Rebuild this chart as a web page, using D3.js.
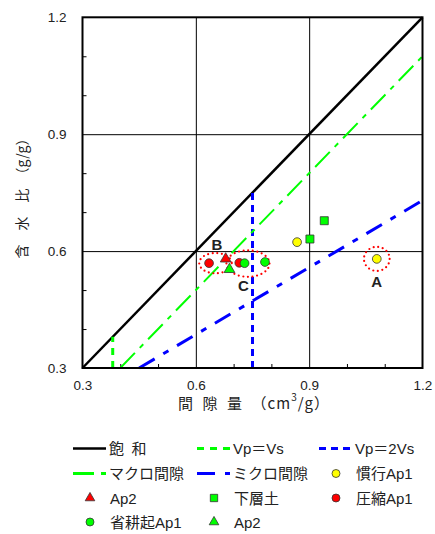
<!DOCTYPE html>
<html>
<head>
<meta charset="utf-8">
<script src="https://cdn.jsdelivr.net/npm/d3@7"></script>
<style>
  body { margin: 0; background: #fff; }
  text { font-family: "Liberation Sans", Arial, "Noto Sans CJK JP", sans-serif; fill: #222; }
  .jp { font-family: "Liberation Sans", "Noto Sans CJK JP", sans-serif; }
  .cjk { font-family: "Noto Sans CJK JP", sans-serif; text-spacing-trim: space-all; }
</style>
</head>
<body>
<div id="chart"></div>
<script>
// axis ticks
const majorTicks = [0.3, 0.6, 0.9, 1.2];
const minorTicks = [0.4, 0.5, 0.7, 0.8, 1.0, 1.1];
const gridTicks = [0.6, 0.9];

// reference lines [x, y] pairs
const saturation = [[0.3, 0.3], [1.2, 1.2]];
const vpEqVs = [[0.38, 0.3], [0.38, 0.38]];
const vpEq2Vs = [[0.75, 0.3], [0.75, 0.75]];
const macroPore = [[0.4, 0.3], [1.2, 1.1]];
const microPore = [[0.45, 0.3], [1.2, 0.73]];

// measured points [void volume, water content]
const kankouAp1 = [[0.868, 0.623], [1.079, 0.580]];
const redAp2 = [[0.679, 0.580]];
const kasoudo = [[0.902, 0.631], [0.940, 0.678]];
const asshukuAp1 = [[0.635, 0.569], [0.715, 0.570]];
const shoukoukiAp1 = [[0.729, 0.569], [0.783, 0.572]];
const greenAp2 = [[0.689, 0.553]];

// annotations: dotted ellipses [cx, cy, rx, ry] and letters
const ellipses = [[1.079, 0.580, 0.034, 0.031], [0.652, 0.569, 0.043, 0.026], [0.738, 0.568, 0.057, 0.034]];
const letters = [["A", 1.079, 0.523], ["B", 0.656, 0.616], ["C", 0.726, 0.511]];

const width = 435, height = 534;
const mLeft = 82.5, mRight = 422.5, mTop = 17.3, mBottom = 368;

const svg = d3.select("#chart").append("svg")
  .attr("width", width).attr("height", height);

svg.append("rect").attr("width", width).attr("height", height).attr("fill", "#fff");

const x = d3.scaleLinear().domain([0.3, 1.2]).range([mLeft, mRight]);
const y = d3.scaleLinear().domain([0.3, 1.2]).range([mBottom, mTop]);

// grid lines
svg.append("g").attr("transform", `translate(0,${mBottom})`)
  .call(d3.axisBottom(x).tickValues(gridTicks).tickSize(-(mBottom - mTop)).tickFormat(""))
  .call(g => g.select(".domain").remove())
  .selectAll("line").attr("stroke", "#000").attr("stroke-width", 1);
svg.append("g").attr("transform", `translate(${mLeft},0)`)
  .call(d3.axisLeft(y).tickValues(gridTicks).tickSize(-(mRight - mLeft)).tickFormat(""))
  .call(g => g.select(".domain").remove())
  .selectAll("line").attr("stroke", "#000").attr("stroke-width", 1);

// minor inward ticks
svg.append("g").attr("transform", `translate(0,${mBottom})`)
  .call(d3.axisBottom(x).tickValues(minorTicks).tickSize(-4).tickFormat(""))
  .call(g => g.select(".domain").remove())
  .selectAll("line").attr("stroke", "#000");
svg.append("g").attr("transform", `translate(${mLeft},0)`)
  .call(d3.axisLeft(y).tickValues(minorTicks).tickSize(-4).tickFormat(""))
  .call(g => g.select(".domain").remove())
  .selectAll("line").attr("stroke", "#000");

// tick labels
svg.append("g").attr("transform", `translate(0,${mBottom})`)
  .call(d3.axisBottom(x).tickValues(majorTicks).tickSize(0).tickPadding(12).tickFormat(d3.format(".1f")))
  .call(g => g.select(".domain").remove())
  .selectAll("text").attr("font-size", 13.5).attr("fill", "#222")
  .attr("font-family", "Liberation Sans, Arial, sans-serif");
svg.append("g").attr("transform", `translate(${mLeft},0)`)
  .call(d3.axisLeft(y).tickValues(majorTicks).tickSize(0).tickPadding(16).tickFormat(d3.format(".1f")))
  .call(g => g.select(".domain").remove())
  .selectAll("text").attr("font-size", 13.5).attr("fill", "#222")
  .attr("font-family", "Liberation Sans, Arial, sans-serif");

const line = d3.line().x(d => x(d[0])).y(d => y(d[1]));
const plot = svg.append("g");

const lineStyles = [
  { data: saturation, color: "#000", w: 2.5, dash: null, name: "飽\u2002和" },
  { data: vpEqVs, color: "#00ff00", w: 3, dash: "7,6", name: "Vp＝Vs" },
  { data: vpEq2Vs, color: "#0000ff", w: 3, dash: "7,5", name: "Vp＝2Vs" },
  { data: macroPore, color: "#00ff00", w: 2, dash: "21,7,5,7", name: "マクロ間隙" },
  { data: microPore, color: "#0000ff", w: 3, dash: "18,10,6,10", name: "ミクロ間隙" }
];

lineStyles.forEach(s => {
  plot.append("path").datum(s.data).attr("d", line)
    .attr("fill", "none").attr("stroke", s.color).attr("stroke-width", s.w)
    .attr("stroke-dasharray", s.dash);
});

// ellipses
plot.selectAll("ellipse.ann").data(ellipses).join("ellipse")
  .attr("cx", d => x(d[0])).attr("cy", d => y(d[1]))
  .attr("rx", d => x(d[0] + d[2]) - x(d[0])).attr("ry", d => y(d[1]) - y(d[1] + d[3]))
  .attr("fill", "none").attr("stroke", "#ff0000").attr("stroke-width", 2.2)
  .attr("stroke-linecap", "round").attr("stroke-dasharray", "0,4.6");

const markerStyles = [
  { data: kankouAp1, shape: d3.symbolCircle, size: 60, color: "#ffff00", name: "慣行Ap1" },
  { data: redAp2, shape: d3.symbolTriangle, size: 50, color: "#ff0000", name: "Ap2" },
  { data: kasoudo, shape: d3.symbolSquare, size: 64, color: "#00ff00", name: "下層土" },
  { data: asshukuAp1, shape: d3.symbolCircle, size: 60, color: "#ff0000", name: "圧縮Ap1" },
  { data: shoukoukiAp1, shape: d3.symbolCircle, size: 60, color: "#00ff00", name: "省耕起Ap1" },
  { data: greenAp2, shape: d3.symbolTriangle, size: 50, color: "#00ff00", name: "Ap2" }
];

markerStyles.forEach(s => {
  plot.selectAll(null).data(s.data).join("path")
    .attr("transform", d => `translate(${x(d[0])},${y(d[1])})`)
    .attr("d", d3.symbol(s.shape, s.size))
    .attr("fill", s.color).attr("stroke", "#333").attr("stroke-width", 0.8);
});

plot.selectAll("text.letter").data(letters).join("text")
  .attr("x", d => x(d[1])).attr("y", d => y(d[2]))
  .attr("text-anchor", "middle").attr("dominant-baseline", "central")
  .attr("font-size", 15).attr("font-weight", "bold").attr("fill", "#000")
  .text(d => d[0]);

// frame
svg.append("rect").attr("x", mLeft).attr("y", mTop)
  .attr("width", mRight - mLeft).attr("height", mBottom - mTop)
  .attr("fill", "none").attr("stroke", "#000").attr("stroke-width", 2);

// axis titles
const xt = svg.append("text").attr("class", "cjk").attr("x", 254).attr("y", 402)
  .attr("text-anchor", "middle").attr("dominant-baseline", "central").attr("font-size", 15)
  .attr("letter-spacing", 1);
xt.append("tspan").text("間\u2002隙\u2002量\u2002（cm");
xt.append("tspan").attr("font-size", 10).attr("dy", -6).text("3");
xt.append("tspan").attr("dy", 6).text("/g）");

svg.append("text").attr("class", "cjk")
  .attr("transform", "translate(21,195) rotate(-90)")
  .attr("text-anchor", "middle").attr("dominant-baseline", "central").attr("font-size", 14)
  .text("含\u3000水\u3000比\u2002（g/g）");

// legend
const colX = [73, 197, 319];
const rowY = [448.5, 473.5, 498, 522];
const legendItems = lineStyles.map(s => ({ type: "line", ...s })).concat(markerStyles.map(s => ({ type: "mark", ...s })));
const legend = svg.append("g");
legendItems.forEach((it, i) => {
  const cx = colX[i % 3], cy = rowY[Math.floor(i / 3)];
  const g = legend.append("g").attr("transform", `translate(${cx},${cy})`);
  if (it.type === "line") {
    g.append("line").attr("x1", 0).attr("x2", 33).attr("y1", 0).attr("y2", 0)
      .attr("stroke", it.color).attr("stroke-width", it.w === 2.5 ? 2.5 : 3)
      .attr("stroke-dasharray", it.dash);
    g.append("text").attr("class", "jp").attr("x", 36).attr("y", 0)
      .attr("dominant-baseline", "central").attr("font-size", 15).text(it.name);
  } else {
    g.append("path").attr("transform", "translate(17,0)")
      .attr("d", d3.symbol(it.shape, it.size - 10))
      .attr("fill", it.color).attr("stroke", "#333").attr("stroke-width", 0.8);
    g.append("text").attr("class", "jp").attr("x", 37).attr("y", 0)
      .attr("dominant-baseline", "central").attr("font-size", 15).text(it.name);
  }
});
</script>
</body>
</html>
